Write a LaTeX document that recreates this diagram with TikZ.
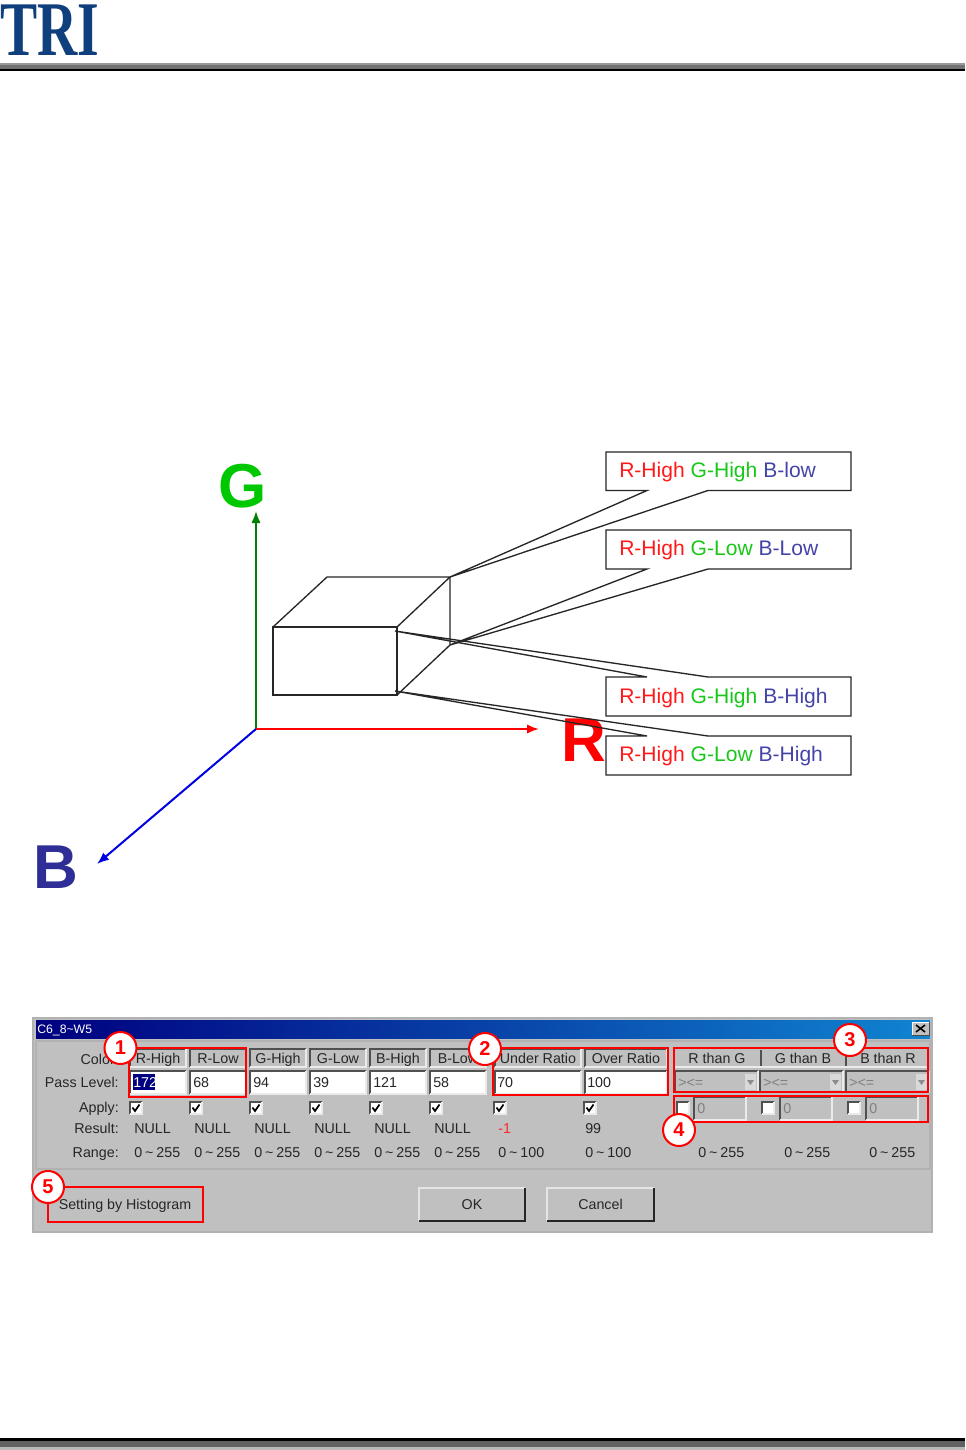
\documentclass[tikz,border=0pt]{standalone}
\usepackage{fontspec}
\setmainfont{Liberation Sans}
\newfontfamily\logofont{Liberation Serif}
\usetikzlibrary{arrows.meta}
\definecolor{dlg}{HTML}{C0C0C0}
\definecolor{tdark}{HTML}{262626}
\definecolor{tgreen}{HTML}{18C818}
\definecolor{tblue}{HTML}{4444A8}
\definecolor{tred}{HTML}{FF1A1A}
\definecolor{logoblue}{HTML}{0F3F7C}
\definecolor{edgeD}{HTML}{505050}
\definecolor{edgeL}{HTML}{EAEAEA}
\definecolor{letterB}{HTML}{2E2E96}
\definecolor{letterG}{HTML}{00C800}
\tikzset{
  x=0.75pt,y=-0.75pt,
  calloutbox/.style={draw=black!85,line width=1pt},
  callouttext/.style={anchor=west,inner sep=0pt,font=\fontsize{15.8}{18}\selectfont},
  wire/.style={draw=black!85,line width=1pt},
  axisline/.style={line width=1.5pt,-{Latex[length=9pt,width=7pt]}},
  bigletter/.style={inner sep=0pt,font=\fontsize{46.5}{50}\selectfont\bfseries},
  ui/.style={inner sep=0pt,text=tdark,anchor=base,font=\fontsize{10.7}{12}\selectfont},
  uiL/.style={ui,anchor=base west},
  uiR/.style={ui,anchor=base east},
  redbox/.style={draw=red,line width=1.7pt},
  badge/.style={circle,draw=red,line width=1.5pt,fill=white,minimum size=24pt,inner sep=0pt,text=red,font=\fontsize{15}{16}\selectfont\bfseries},
}
\newcommand{\rng}[1]{0\kern2.2pt\textasciitilde\kern2.2pt #1}
\newcommand{\sunk}[5]{% x0 y0 x1 y1 fill
  \fill[#5] (#1,#2) rectangle (#3,#4);
  \draw[edgeD,line width=1.1pt] (#1,#4) -- (#1,#2) -- (#3,#2);
  \draw[edgeL,line width=1pt] (#1,#4) -- (#3,#4) -- (#3,#2);
}
\newcommand{\raisedbtn}[4]{% x0 y0 x1 y1
  \draw[white!90!black,line width=1pt] (#1,#4) -- (#1,#2) -- (#3,#2);
  \draw[black!85,line width=1.2pt] (#1,#4) -- (#3,#4) -- (#3,#2);
}
\newcommand{\chk}[3]{% cx cy mark(0/1)
  \fill[white] (#1-6,#2-6) rectangle (#1+6,#2+6);
  \draw[edgeD,line width=1pt] (#1-6,#2+6) -- (#1-6,#2-6) -- (#1+6,#2-6);
  \draw[edgeL,line width=1pt] (#1-6,#2+6) -- (#1+6,#2+6) -- (#1+6,#2-6);
  \ifnum#3=1 \draw[black,line width=1.3pt] (#1-3.5,#2-0.5) -- (#1-1,#2+3) -- (#1+3.5,#2-3.5);\fi
}
\begin{document}
\begin{tikzpicture}
\useasboundingbox (0,0) rectangle (965,1450);
\fill[white] (0,0) rectangle (965,1450);

% header
\node[anchor=base,inner sep=0pt,text=logoblue,xscale=0.72,font=\logofont\fontsize{58}{60}\selectfont\bfseries] (logo) at (50,55) {TRI};
\fill[black!40] (0,63) rectangle (965,65);
\fill[black!55] (0,65) rectangle (965,69);
\fill[black] (0,69) rectangle (965,71);

% footer
\fill[black] (0,1438) rectangle (965,1441);
\fill[black!62] (0,1441) rectangle (965,1447);
\fill[black!28] (0,1447) rectangle (965,1450);

% axes
\coordinate (O) at (256,729);
\coordinate (Gend) at (256,511);
\coordinate (Rend) at (539,729);
\coordinate (Bend) at (97,864);
\draw[axisline,green!50!black] (O) -- (Gend);
\draw[axisline,red] (O) -- (Rend);
\draw[axisline,blue!90!black] (O) -- (Bend);
\node[bigletter,text=letterG] (G) at (242.5,486) {G};
\node[bigletter,text=red] (R) at (584,740.5) {R};
\node[bigletter,text=letterB] (B) at (55.5,867.5) {B};

% cube
\coordinate (f1) at (273,627); \coordinate (f2) at (397,627);
\coordinate (f3) at (397,695); \coordinate (f4) at (273,695);
\coordinate (b1) at (327,577); \coordinate (b2) at (450,577);
\coordinate (b3) at (450,645);
\coordinate (t3) at (395,631); \coordinate (t4) at (395,691);
\draw[wire] (f1) -- (f2) -- (f3) -- (f4) -- cycle;
\draw[wire] (f1) -- (b1) -- (b2) -- (f2);
\draw[wire] (b2) -- (b3) -- (f3);

% callouts
\fill[white] (606,736) rectangle (851,775);
\draw[calloutbox] (606,452) -- (851,452) -- (851,490.5) -- (708,490.5) -- (b2) -- (647,490.5) -- (606,490.5) -- cycle;
\draw[calloutbox] (606,530) -- (851,530) -- (851,569) -- (708,569) -- (b3) -- (647,569) -- (606,569) -- cycle;
\draw[calloutbox] (606,677) -- (647,677) -- (t3) -- (708,677) -- (851,677) -- (851,716) -- (606,716) -- cycle;
\draw[calloutbox] (606,736) -- (647,736) -- (t4) -- (708,736) -- (851,736) -- (851,775) -- (606,775) -- cycle;
\node[callouttext] (c1) at (619,472) {\textcolor{tred}{R-High} \textcolor{tgreen}{G-High} \textcolor{tblue}{B-low}};
\node[callouttext] (c2) at (619,550.5) {\textcolor{tred}{R-High} \textcolor{tgreen}{G-Low} \textcolor{tblue}{B-Low}};
\node[callouttext] (c3) at (619,698) {\textcolor{tred}{R-High} \textcolor{tgreen}{G-High} \textcolor{tblue}{B-High}};
\node[callouttext] (c4) at (619,756.5) {\textcolor{tred}{R-High} \textcolor{tgreen}{G-Low} \textcolor{tblue}{B-High}};

% dialog
\fill[dlg] (33,1018) rectangle (932,1232);
\draw[black!30,line width=0.8pt] (33,1018) rectangle (932,1232);
\shade[left color=blue!50!black,right color={rgb,255:red,16;green,132;blue,208}] (36,1020) rectangle (930,1038);
\node[anchor=base west,inner sep=0pt,text=white,font=\fontsize{9.2}{11}\selectfont] (title) at (37,1033) {C6\_8\textasciitilde W5};
\fill[dlg] (912,1022) rectangle (929,1035);
\draw[black!70,line width=0.7pt] (912,1035) -- (929,1035) -- (929,1022);
\draw[white,line width=0.7pt] (912,1035) -- (912,1022) -- (929,1022);
\draw[black,line width=1.2pt] (916,1025) -- (925,1032) (925,1025) -- (916,1032);
\draw[black!30,line width=0.9pt] (36,1041) rectangle (930,1169);

% row labels
\node[uiR] (lcolor) at (119,1064) {Color:};
\node[uiR] (lpass) at (119,1087) {Pass Level:};
\node[uiR] (lapply) at (119,1112) {Apply:};
\node[uiR] (lresult) at (119,1133) {Result:};
\node[uiR] (lrange) at (119,1157) {Range:};

% RGB columns
\foreach \x/\h/\v in {130/R-High/172,190/R-Low/68,250/G-High/94,310/G-Low/39,370/B-High/121,430/B-Low/58}{
  \sunk{\x}{1049}{\x+56}{1067}{dlg}
  \node[ui] at (\x+28,1063.5) {\h};
  \sunk{\x}{1071}{\x+56}{1094}{white}
  \chk{\x+6}{1108}{1}
  \node[uiL] at (\x+4,1133) {NULL};
  \node[uiL] at (\x+4,1157) {\rng{255}};
}
\fill[blue!50!black] (133,1074) rectangle (155,1090);
\node[uiL,text=white] (v1) at (133,1087) {172};
\node[uiL] (v2) at (193,1087) {68};
\node[uiL] (v3) at (253,1087) {94};
\node[uiL] (v4) at (313,1087) {39};
\node[uiL] (v5) at (373,1087) {121};
\node[uiL] (v6) at (433,1087) {58};

% ratio columns
\sunk{495}{1049}{581}{1067}{dlg}
\sunk{585}{1049}{667}{1067}{dlg}
\node[ui] (hu) at (538,1063.5) {Under Ratio};
\node[ui] (ho) at (626,1063.5) {Over Ratio};
\sunk{495}{1071}{581}{1094}{white}
\sunk{585}{1071}{667}{1094}{white}
\node[uiL] (vu) at (497,1087) {70};
\node[uiL] (vo) at (587,1087) {100};
\chk{500}{1108}{1}
\chk{590}{1108}{1}
\node[uiL,text=red!85!white] (ru) at (498,1133) {-1};
\node[uiL] (ro) at (585,1133) {99};
\node[uiL] (rgu) at (498,1157) {\rng{100}};
\node[uiL] (rgo) at (585,1157) {\rng{100}};

% comparison columns
\draw[edgeL,line width=1pt] (675,1067) -- (928,1067);
\draw[edgeD,line width=1.2pt] (761,1050) -- (761,1066) (846,1050) -- (846,1066);
\node[ui] (h3a) at (717,1063.5) {R than G};
\node[ui] (h3b) at (803,1063.5) {G than B};
\node[ui] (h3c) at (888,1063.5) {B than R};
\foreach \x in {675,760,846}{
  \sunk{\x}{1071}{\x+83}{1092}{dlg}
  \node[uiL,text=black!50] at (\x+3,1087) {><=};
  \fill[black!15] (\x+70,1074) rectangle (\x+81,1090);
  \fill[black!45] (\x+72,1080) -- (\x+79,1080) -- (\x+75.5,1085) -- cycle;
}
\foreach \x/\c/\r in {694/683/698,780/768/784,866/854/869}{
  \sunk{\x}{1097}{\x+52}{1120}{dlg}
  \node[uiL,text=black!50] at (\x+3,1113) {0};
  \chk{\c}{1108}{0}
  \node[uiL] at (\r,1157) {\rng{255}};
}

% buttons
\raisedbtn{48}{1187}{203}{1222}
\node[ui] (bhist) at (125,1209.5) {Setting by Histogram};
\raisedbtn{419}{1188}{525}{1221}
\node[ui] (bok) at (472,1209.5) {OK};
\raisedbtn{547}{1188}{654}{1221}
\node[ui] (bcancel) at (600.5,1209.5) {Cancel};

% red boxes
\draw[redbox] (129,1048) rectangle (246,1097);
\draw[redbox] (493,1048) rectangle (668,1095);
\draw[redbox] (674,1048) rectangle (928,1092);
\draw[redbox] (674,1096) rectangle (928,1122);
\draw[redbox] (48,1187) rectangle (203,1222);

% badges
\node[badge] (n1) at (120.5,1048) {1};
\node[badge] (n2) at (485,1049) {2};
\node[badge] (n3) at (850,1040) {3};
\node[badge] (n4) at (679,1130) {4};
\node[badge] (n5) at (48,1187) {5};
\end{tikzpicture}
\end{document}
